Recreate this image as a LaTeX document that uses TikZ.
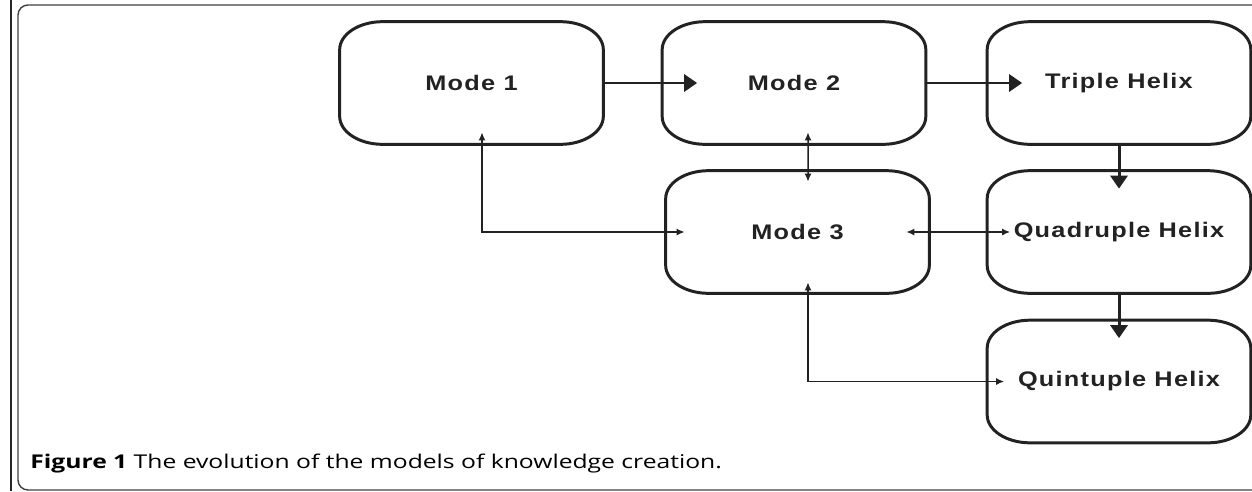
\documentclass[tikz,border=0pt]{standalone}
\usepackage{fontspec}
\usepackage{tikz}
\usetikzlibrary{arrows.meta}
\newfontfamily\boxfont[FakeStretch=1.2,LetterSpace=6]{Liberation Sans}
\newfontfamily\capfont[FakeStretch=1.3]{Open Sans}
\definecolor{ink}{HTML}{222222}

\tikzset{
    modebox/.style={minimum width=5.26cm, minimum height=2.44cm, inner sep=0pt,
        font=\boxfont\bfseries\fontsize{12}{14}\selectfont, text=ink},
    boxline/.style={draw=ink, line width=1.7pt},
    bigarrow/.style={-{Triangle[length=0.26cm,width=0.34cm]}, line width=1.7pt, draw=ink},
    smallarrow/.style={{Latex[length=0.16cm,width=0.14cm]}-{Latex[length=0.16cm,width=0.14cm]},
        line width=0.85pt, draw=ink}
}

\begin{document}
\begin{tikzpicture}[x=0.02cm, y=-0.02cm]
                \useasboundingbox (0,0) rectangle (1252,491);
                % frame of the figure
                \draw[line width=1.6pt, black!85] (11,0) -- (11,491);
                \draw[line width=0.8pt, black!75, rounded corners=0.2cm] (1270,5) -- (18,5) -- (18,490) -- (1270,490);
                \node[modebox] (m1) at (471.5,83) {Mode 1};
                \node[modebox] (m2) at (794,83) {Mode 2};
                \node[modebox] (th) at (1119,83) {Triple Helix};
                \node[modebox] (m3) at (797.5,232) {Mode 3};
                \node[modebox] (qd) at (1119,232) {Quadruple Helix};
                \node[modebox] (qn) at (1119,381.5) {Quintuple Helix};
                \foreach \n in {m1,m2,th,m3,qd,qn} {
                        \draw[boxline] ([xshift=0.86cm]\n.north west) -- ([xshift=-0.86cm]\n.north east)
                            arc[start angle=90, end angle=0, x radius=0.86cm, y radius=0.56cm]
                            -- ([yshift=0.56cm]\n.south east)
                            arc[start angle=0, end angle=-90, x radius=0.86cm, y radius=0.56cm]
                            -- ([xshift=0.86cm]\n.south west)
                            arc[start angle=270, end angle=180, x radius=0.86cm, y radius=0.56cm]
                            -- ([yshift=-0.56cm]\n.north west)
                            arc[start angle=180, end angle=90, x radius=0.86cm, y radius=0.56cm] -- cycle;
                    }
                \draw[bigarrow, shorten >=-0.7cm] (m1) -- (m2);
                \draw[bigarrow, shorten >=-0.7cm] (m2) -- (th);
                \draw[bigarrow, shorten >=-0.36cm] (th) -- (qd);
                \draw[bigarrow, shorten >=-0.36cm] (qd) -- (qn);
                \draw[smallarrow] ([xshift=0.21cm,yshift=0.24cm]m1.south) |- ([xshift=0.38cm]m3.west);
                \draw[smallarrow] ([xshift=0.28cm,yshift=0.24cm]m2.south) -- ([xshift=0.21cm,yshift=-0.22cm]m3.north);
                \draw[smallarrow, shorten <=-0.46cm, shorten >=-0.46cm] (m3) -- (qd);
                \draw[smallarrow] ([xshift=0.21cm,yshift=0.22cm]m3.south) |- ([xshift=0.34cm]qn.west);
                \node[anchor=base west, inner sep=0pt, font=\capfont\fontsize{10.8}{13}\selectfont] (cap) at (30,468)
                    {\textbf{Figure 1} The evolution of the models of knowledge creation.};
            \end{tikzpicture}
\end{document}
